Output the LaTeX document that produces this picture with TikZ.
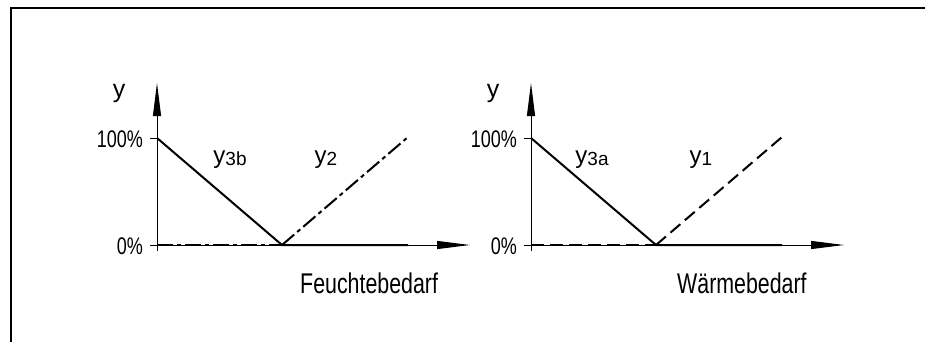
\documentclass[tikz,border=0pt]{standalone}
\usepackage{fontspec}
\setmainfont{Liberation Sans}
\newfontfamily\narrowfont{Liberation Sans}[FakeStretch=0.75]
\usetikzlibrary{arrows.meta}
\begin{document}
\begin{tikzpicture}[x=1pt,y=-1pt,
  axis/.style={line width=1pt},
  arr/.style={-{Triangle[length=33pt,width=8pt]}},
  curve/.style={line width=2pt},
  dashdot/.style={line width=2pt, dash pattern=on 16pt off 4pt on 4pt off 4pt},
  dashd/.style={line width=2pt, dash pattern=on 13pt off 6pt},
  ylbl/.style={font=\fontsize{25}{25}\selectfont, inner sep=0pt, anchor=base},
  lbl/.style={font=\narrowfont\fontsize{24}{24}\selectfont, inner sep=0pt, anchor=base east},
  curvelbl/.style={font=\fontsize{24}{24}\selectfont, inner sep=0pt, anchor=base},
  title/.style={font=\narrowfont\fontsize{28.5}{28.5}\selectfont, inner sep=0pt, anchor=base west},
]
\useasboundingbox (0,0) rectangle (925,342);
\draw[line width=2pt] (11,342) -- (11,8) -- (925,8);
\newcommand{\mysub}[1]{\raisebox{-2pt}{\fontsize{19}{19}\selectfont #1}}
% ---------- left graph ----------
\coordinate (Lo) at (157,245);
\coordinate (Lytip) at (157,83);
\coordinate (Lybot) at (157,251);
\coordinate (Lxtip) at (470,245);
\coordinate (Lxl) at (150,245);
\coordinate (Lp) at (157,138);
\coordinate (Lt) at (150,138);
\coordinate (Lv) at (282,245);
\coordinate (Le) at (408,137);
\coordinate (Lf) at (408,245);
\draw[axis,arr] (Lybot) -- (Lytip);
\draw[axis,arr] (Lxl) -- (Lxtip);
\draw[axis] (Lt) -- (Lp);
\draw[curve] (Lp) -- (Lv) -- (Lf);
\draw[dashdot] (Lo) -- (Lv);
\draw[dashdot] (Lv) -- (Le);
\node[ylbl] (Ly) at (119,98) {y};
\node[lbl] (L100) at (143,147) {100\%};
\node[lbl] (L0) at (143,254) {0\%};
\node[curvelbl] (L3b) at (230,163) {y\mysub{3b}};
\node[curvelbl] (L2) at (326,163) {y\mysub{2}};
\node[title] (Lfb) at (300,293) {Feuchtebedarf};
% ---------- right graph ----------
\coordinate (Ro) at (531,245);
\coordinate (Rytip) at (531,83);
\coordinate (Rybot) at (531,251);
\coordinate (Rxtip) at (844,245);
\coordinate (Rxl) at (524,245);
\coordinate (Rp) at (531,138);
\coordinate (Rt) at (524,138);
\coordinate (Rv) at (656,245);
\coordinate (Re) at (782,137);
\coordinate (Rf) at (782,245);
\draw[axis,arr] (Rybot) -- (Rytip);
\draw[axis,arr] (Rxl) -- (Rxtip);
\draw[axis] (Rt) -- (Rp);
\draw[curve] (Rp) -- (Rv) -- (Rf);
\draw[dashd] (Ro) -- (Rv);
\draw[dashd] (Rv) -- (Re);
\node[ylbl] (Ry) at (493,98) {y};
\node[lbl] (R100) at (517,147) {100\%};
\node[lbl] (R0) at (517,254) {0\%};
\node[curvelbl] (R3a) at (592,163) {y\mysub{3a}};
\node[curvelbl] (R1) at (701,163) {y\mysub{1}};
\node[title] (Rwb) at (677,293) {Wärmebedarf};
\end{tikzpicture}
\end{document}
